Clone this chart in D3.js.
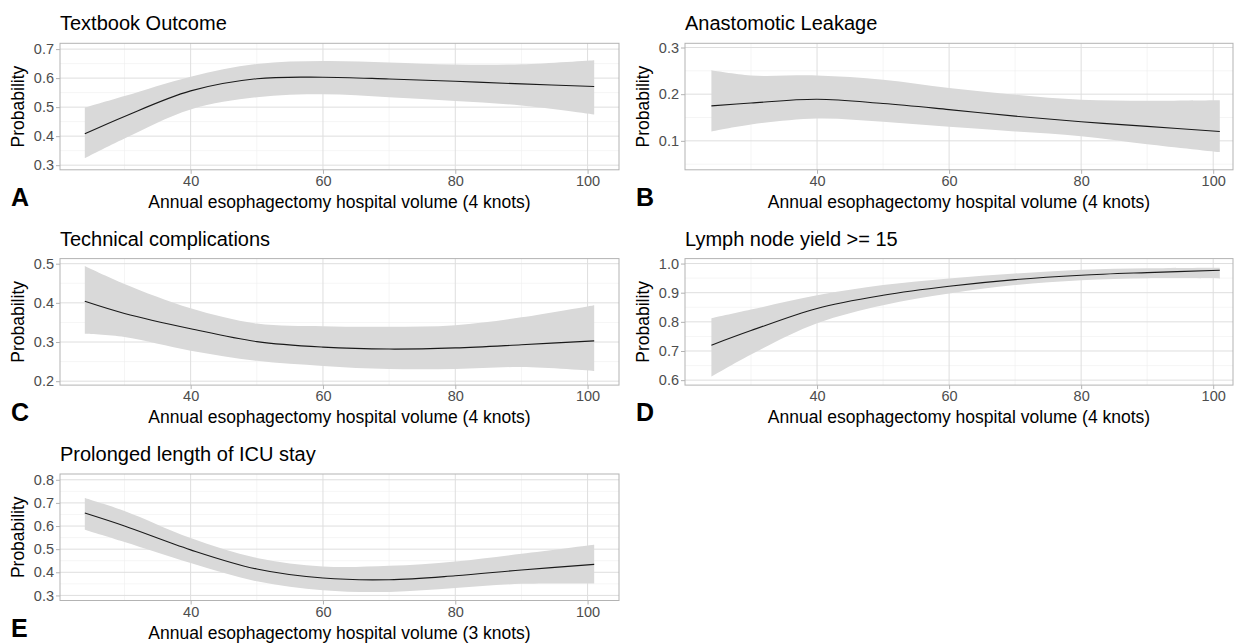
<!DOCTYPE html>
<meta charset="utf-8">
<style>
body { margin: 0; background: #fff; }
svg { font-family: "Liberation Sans", Arial, sans-serif; }
.title { font-size: 20px; fill: #000; }
.axtitle { font-size: 17.5px; fill: #000; }
.tick text { font-size: 14.5px; fill: #4d4d4d; }
.letter { font-size: 25px; font-weight: bold; fill: #000; }
</style>
<svg width="1236" height="643"></svg>
<script src="https://d3js.org/d3.v7.min.js"></script>
<script>

var volume = [24, 30, 40, 50, 60, 70, 80, 90, 101];

var titles = ["Textbook Outcome", "Anastomotic Leakage", "Technical complications",
  "Lymph node yield >= 15", "Prolonged length of ICU stay"];
var letters = ["A", "B", "C", "D", "E"];
var xTitles = ["Annual esophagectomy hospital volume (4 knots)",
  "Annual esophagectomy hospital volume (4 knots)",
  "Annual esophagectomy hospital volume (4 knots)",
  "Annual esophagectomy hospital volume (4 knots)",
  "Annual esophagectomy hospital volume (3 knots)"];

var fitA = [0.408, 0.468, 0.556, 0.598, 0.603, 0.597, 0.589, 0.580, 0.571];
var upA  = [0.498, 0.538, 0.605, 0.649, 0.659, 0.654, 0.647, 0.648, 0.662];
var loA  = [0.324, 0.392, 0.492, 0.534, 0.544, 0.534, 0.521, 0.506, 0.475];

var fitB = [0.175, 0.181, 0.189, 0.180, 0.167, 0.153, 0.141, 0.131, 0.120];
var upB  = [0.251, 0.240, 0.240, 0.231, 0.213, 0.199, 0.188, 0.186, 0.187];
var loB  = [0.120, 0.135, 0.148, 0.141, 0.130, 0.120, 0.110, 0.093, 0.076];

var fitC = [0.404, 0.373, 0.334, 0.301, 0.287, 0.282, 0.285, 0.293, 0.303];
var upC  = [0.494, 0.448, 0.386, 0.347, 0.340, 0.339, 0.343, 0.363, 0.394];
var loC  = [0.321, 0.313, 0.278, 0.252, 0.239, 0.231, 0.231, 0.236, 0.226];

var fitD = [0.720, 0.770, 0.846, 0.891, 0.922, 0.945, 0.960, 0.969, 0.977];
var upD  = [0.812, 0.842, 0.891, 0.926, 0.949, 0.966, 0.979, 0.984, 0.986];
var loD  = [0.612, 0.688, 0.795, 0.857, 0.897, 0.926, 0.943, 0.950, 0.949];

var fitE = [0.656, 0.600, 0.497, 0.414, 0.375, 0.368, 0.385, 0.410, 0.434];
var upE  = [0.721, 0.665, 0.548, 0.462, 0.425, 0.428, 0.447, 0.480, 0.519];
var loE  = [0.584, 0.531, 0.440, 0.361, 0.322, 0.315, 0.332, 0.350, 0.351];

var fits = [fitA, fitB, fitC, fitD, fitE];
var ups = [upA, upB, upC, upD, upE];
var los = [loA, loB, loC, loD, loE];

var yDomains = [[0.284, 0.720], [0.038, 0.309], [0.19, 0.513], [0.583, 1.017], [0.278, 0.825]];
var yTicks = [[0.3, 0.4, 0.5, 0.6, 0.7], [0.1, 0.2, 0.3], [0.2, 0.3, 0.4, 0.5],
  [0.6, 0.7, 0.8, 0.9, 1.0], [0.3, 0.4, 0.5, 0.6, 0.7, 0.8]];
var xTicks = [40, 60, 80, 100];
var xMinor = [30, 50, 70, 90];

var svg = d3.select("svg");

var cols = [{left: 60, width: 559, domain: [20.25, 104.75]},
            {left: 685, width: 548, domain: [20.0, 103.0]}];
var rowTop = [43.3, 258.6, 474], panelH = 126.5;

titles.forEach(function(t, i) {
  var col = cols[i % 2], top = rowTop[Math.floor(i / 2)];
  var g = svg.append("g").attr("transform", "translate(" + col.left + "," + top + ")");

  var x = d3.scaleLinear().domain(col.domain).range([0, col.width]);
  var y = d3.scaleLinear().domain(yDomains[i]).range([panelH, 0]);

  // minor grid
  var yt = yTicks[i], step = yt[1] - yt[0];
  var yMinor = [];
  for (var k = -1; k < yt.length; k++) {
    var v = (k < 0 ? yt[0] - step / 2 : yt[k] + step / 2);
    if (v > yDomains[i][0] && v < yDomains[i][1]) yMinor.push(v);
  }
  g.selectAll(".minx").data(xMinor).enter().append("line")
    .attr("x1", x).attr("x2", x).attr("y1", 0).attr("y2", panelH)
    .attr("stroke", "#efefef").attr("stroke-width", 0.6);
  g.selectAll(".miny").data(yMinor).enter().append("line")
    .attr("y1", y).attr("y2", y).attr("x1", 0).attr("x2", col.width)
    .attr("stroke", "#efefef").attr("stroke-width", 0.6);
  // major grid
  g.selectAll(".majx").data(xTicks).enter().append("line")
    .attr("x1", x).attr("x2", x).attr("y1", 0).attr("y2", panelH)
    .attr("stroke", "#dedede").attr("stroke-width", 1);
  g.selectAll(".majy").data(yt).enter().append("line")
    .attr("y1", y).attr("y2", y).attr("x1", 0).attr("x2", col.width)
    .attr("stroke", "#dedede").attr("stroke-width", 1);

  var rows = volume.map(function(v, j) {
    return {x: v, fit: fits[i][j], up: ups[i][j], lo: los[i][j]};
  });

  g.append("path").datum(rows)
    .attr("fill", "#d9d9d9")
    .attr("d", d3.area().curve(d3.curveCatmullRom.alpha(0.5))
      .x(function(d) { return x(d.x); })
      .y0(function(d) { return y(d.lo); })
      .y1(function(d) { return y(d.up); }));

  g.append("path").datum(rows)
    .attr("fill", "none").attr("stroke", "#1a1a1a").attr("stroke-width", 1.1)
    .attr("d", d3.line().curve(d3.curveCatmullRom.alpha(0.5))
      .x(function(d) { return x(d.x); })
      .y(function(d) { return y(d.fit); }));

  g.append("rect").attr("width", col.width).attr("height", panelH)
    .attr("fill", "none").attr("stroke", "#b3b3b3").attr("stroke-width", 1);

  var xa = g.append("g").attr("transform", "translate(0," + panelH + ")")
    .call(d3.axisBottom(x).tickValues(xTicks).tickSize(4).tickPadding(2));
  var ya = g.append("g")
    .call(d3.axisLeft(y).tickValues(yt).tickSize(4).tickPadding(2).tickFormat(d3.format(".1f")));
  [xa, ya].forEach(function(a) {
    a.select(".domain").remove();
    a.selectAll(".tick line").attr("stroke", "#b3b3b3");
  });

  g.append("text").attr("class", "title").attr("x", 0).attr("y", -13).text(t);
  g.append("text").attr("class", "axtitle").attr("text-anchor", "middle")
    .attr("x", col.width / 2).attr("y", panelH + 38).text(xTitles[i]);
  g.append("text").attr("class", "axtitle").attr("text-anchor", "middle")
    .attr("transform", "translate(-36," + panelH / 2 + ") rotate(-90)").text("Probability");
  g.append("text").attr("class", "letter").attr("x", -49).attr("y", panelH + 36).text(letters[i]);
});

</script>
